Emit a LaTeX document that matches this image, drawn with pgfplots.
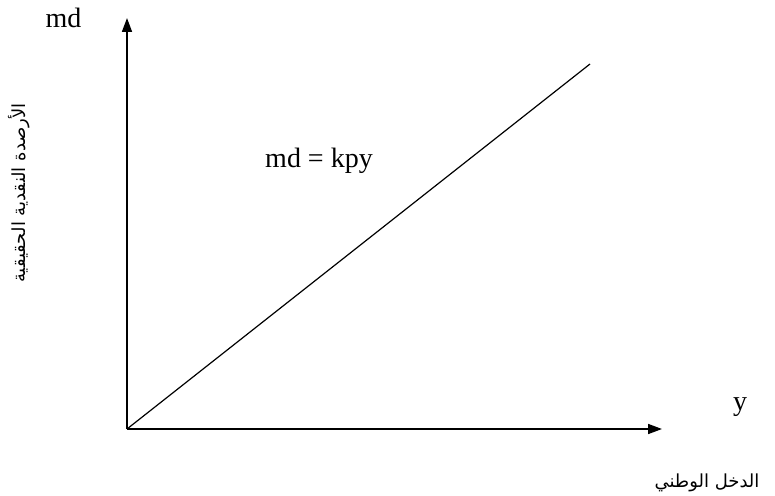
\documentclass[border=0pt]{standalone}
\usepackage{fontspec}
\setmainfont{Liberation Serif}
\newfontfamily\arabicfont[Script=Arabic]{DejaVu Sans}
\TeXXeTstate=1
\usepackage{pgfplots}
\pgfplotsset{compat=1.18}
\usetikzlibrary{arrows.meta}
\begin{document}
\begin{tikzpicture}
\begin{axis}[
  width=775pt, height=495pt, scale only axis,
  xmin=0, xmax=775, ymin=0, ymax=495,
  hide axis, clip=false,
]
% axes
\addplot[black, line width=1.6pt, -{Triangle[length=14pt,width=10pt]}] coordinates {(127,66) (127,477)};
\addplot[black, line width=1.6pt, -{Triangle[length=14pt,width=10pt]}] coordinates {(127,66) (662,66)};
% md = kpy line
\addplot[black, line width=1.2pt] coordinates {(127,66) (590,431)};
% labels
\node[anchor=base, font=\fontsize{28}{30}\selectfont] at (axis cs:63.5,467) {md};
\node[anchor=base, font=\fontsize{28}{30}\selectfont] at (axis cs:319,327) {md = kpy};
\node[anchor=base, font=\fontsize{28}{30}\selectfont] at (axis cs:740,85) {y};
\node[font=\fontsize{18}{20}\arabicfont, rotate=90] at (axis cs:19,302) {\beginR الأرصدة النقدية الحقيقية\endR};
\node[font=\fontsize{18}{20}\arabicfont] at (axis cs:707,12) {\beginR الدخل الوطني\endR};
\end{axis}
\pgfresetboundingbox
\useasboundingbox (current axis.south west) rectangle (current axis.north east);
\end{tikzpicture}
\end{document}
